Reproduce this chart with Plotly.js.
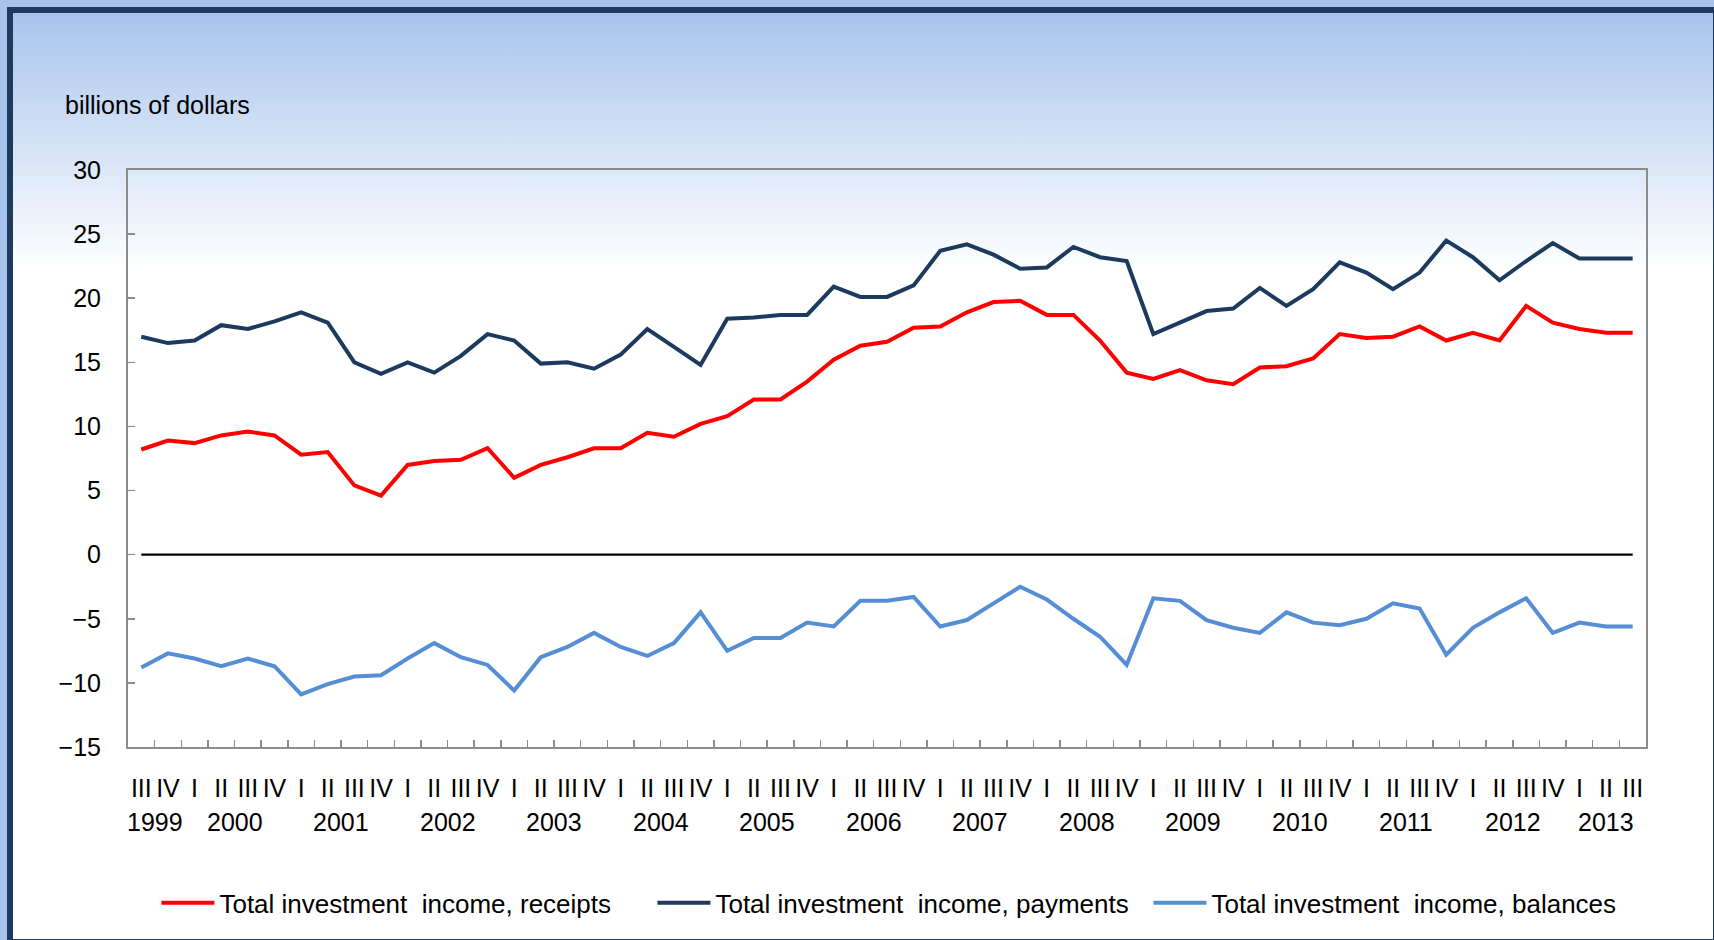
<!DOCTYPE html>
<html>
<head>
<meta charset="utf-8">
<script src="https://cdn.plot.ly/plotly-3.0.1.min.js"></script>
<style>
html, body { margin:0; padding:0; width:1714px; height:940px; overflow:hidden; background:#a8c4ec; }
#frame { position:absolute; left:7px; top:7px; width:1712px; height:938px; box-sizing:border-box;
  border:6px solid #1d3a5f;
  background:linear-gradient(to bottom, #a8c4ec 0px, #ffffff 258px, #ffffff 100%); }
#chart { position:absolute; left:0; top:0; width:1714px; height:940px; }
</style>
</head>
<body>
<div id="frame"></div>
<div id="chart"></div>
<script>
// Period labels (1999 Q3 – 2013 Q3)
const periodYears = [
  1999,1999,
  2000,2000,2000,2000,
  2001,2001,2001,2001,
  2002,2002,2002,2002,
  2003,2003,2003,2003,
  2004,2004,2004,2004,
  2005,2005,2005,2005,
  2006,2006,2006,2006,
  2007,2007,2007,2007,
  2008,2008,2008,2008,
  2009,2009,2009,2009,
  2010,2010,2010,2010,
  2011,2011,2011,2011,
  2012,2012,2012,2012,
  2013,2013,2013
];
const quarters = [
  "III","IV",
  "I","II","III","IV",
  "I","II","III","IV",
  "I","II","III","IV",
  "I","II","III","IV",
  "I","II","III","IV",
  "I","II","III","IV",
  "I","II","III","IV",
  "I","II","III","IV",
  "I","II","III","IV",
  "I","II","III","IV",
  "I","II","III","IV",
  "I","II","III","IV",
  "I","II","III","IV",
  "I","II","III"
];

// Series, billions of dollars
const receipts = [
  8.2,8.9,8.7,9.3,9.6,9.3,7.8,8.0,5.4,4.6,7.0,7.3,7.4,8.3,6.0,7.0,7.6,8.3,8.3,9.5,
  9.2,10.2,10.8,12.1,12.1,13.5,15.2,16.3,16.6,17.7,17.8,18.9,19.7,19.8,18.7,18.7,16.7,14.2,13.7,14.4,
  13.6,13.3,14.6,14.7,15.3,17.2,16.9,17.0,17.8,16.7,17.3,16.7,19.4,18.1,17.6,17.3,17.3
];
const payments = [
  17.0,16.5,16.7,17.9,17.6,18.2,18.9,18.1,15.0,14.1,15.0,14.2,15.5,17.2,16.7,14.9,15.0,14.5,15.6,17.6,
  16.2,14.8,18.4,18.5,18.7,18.7,20.9,20.1,20.1,21.0,23.7,24.2,23.4,22.3,22.4,24.0,23.2,22.9,17.2,18.1,
  19.0,19.2,20.8,19.4,20.7,22.8,22.0,20.7,22.0,24.5,23.2,21.4,22.9,24.3,23.1,23.1,23.1
];
const balances = [
  -8.8,-7.7,-8.1,-8.7,-8.1,-8.7,-10.9,-10.1,-9.5,-9.4,-8.1,-6.9,-8.0,-8.6,-10.6,-8.0,-7.2,-6.1,-7.2,-7.9,
  -6.9,-4.5,-7.5,-6.5,-6.5,-5.3,-5.6,-3.6,-3.6,-3.3,-5.6,-5.1,-3.8,-2.5,-3.5,-5.0,-6.4,-8.6,-3.4,-3.6,
  -5.1,-5.7,-6.1,-4.5,-5.3,-5.5,-5.0,-3.8,-4.2,-7.8,-5.7,-4.5,-3.4,-6.1,-5.3,-5.6,-5.6
];
const seriesNames = [
  "Total investment  income, receipts",
  "Total investment  income, payments",
  "Total investment  income, balances"
];
const yTicks = [-15,-10,-5,0,5,10,15,20,25,30];

// ---- build chart ----
const cats = periodYears.map((y, i) => y + " " + quarters[i]);
const zeros = cats.map(() => 0);

const FONT = "Liberation Sans, Arial, Helvetica, sans-serif";

const traces = [
  { x: cats, y: zeros, mode: "lines", line: {color: "#000000", width: 2.2},
    showlegend: false, hoverinfo: "skip" },
  { x: cats, y: receipts, name: seriesNames[0], mode: "lines",
    line: {color: "#ff0000", width: 4} },
  { x: cats, y: payments, name: seriesNames[1], mode: "lines",
    line: {color: "#1b3a5e", width: 4} },
  { x: cats, y: balances, name: seriesNames[2], mode: "lines",
    line: {color: "#558ed5", width: 4} }
];

// Year labels centred under their quarters
const uniqueYears = [...new Set(periodYears)];
const yearAnnotations = uniqueYears.map(yr => {
  const idx = periodYears.map((v, i) => v === yr ? i : -1).filter(i => i >= 0);
  const center = idx.reduce((a, b) => a + b, 0) / idx.length;
  return {
    x: center, xref: "x", y: -0.13, yref: "paper",
    text: String(yr), showarrow: false, xanchor: "center", yanchor: "middle",
    font: {family: FONT, size: 25, color: "#000000"}
  };
});

const layout = {
  width: 1714, height: 940,
  paper_bgcolor: "rgba(0,0,0,0)",
  plot_bgcolor: "rgba(0,0,0,0)",
  margin: {l: 128, r: 68, t: 170, b: 193, pad: 0},
  font: {family: FONT, size: 25, color: "#000000"},
  showlegend: true,
  legend: {
    orientation: "h", x: 0.524, xanchor: "center", y: -0.27, yanchor: "middle",
    font: {family: FONT, size: 26, color: "#000000"},
    entrywidth: 451, entrywidthmode: "pixels",
    bgcolor: "rgba(0,0,0,0)"
  },
  xaxis: {
    type: "category",
    range: [-0.5, cats.length - 0.5],
    tickmode: "array", tickvals: cats, ticktext: quarters,
    tickson: "boundaries",
    ticks: "inside", ticklen: 7, tickwidth: 1.5, tickcolor: "#8c8c8c",
    showline: true, linecolor: "#8c8c8c", linewidth: 2, mirror: true,
    showgrid: false, zeroline: false,
    tickangle: 0, ticklabelstandoff: 18,
    tickfont: {family: FONT, size: 25, color: "#000000"}
  },
  yaxis: {
    range: [-15, 30],
    tickmode: "array", tickvals: yTicks,
    ticks: "inside", ticklen: 7, tickwidth: 1.5, tickcolor: "#8c8c8c",
    showline: true, linecolor: "#8c8c8c", linewidth: 2, mirror: true,
    showgrid: false, zeroline: false,
    ticklabelstandoff: 20,
    tickfont: {family: FONT, size: 25, color: "#000000"}
  },
  annotations: [
    { x: -0.0428, xref: "paper", y: 1.1135, yref: "paper",
      text: "billions of dollars", showarrow: false, xanchor: "left", yanchor: "middle",
      font: {family: FONT, size: 25, color: "#000000"} },
    ...yearAnnotations
  ]
};

Plotly.newPlot("chart", traces, layout, {displayModeBar: false, staticPlot: true}).then(gd => {
  // longer legend line samples, as in the original
  gd.querySelectorAll(".legend .legendlines path").forEach(p => {
    p.setAttribute("d", "M-18,0h53");
  });
  gd.querySelectorAll(".legend .scrollbox").forEach(s => s.removeAttribute("clip-path"));
});
</script>
</body>
</html>
